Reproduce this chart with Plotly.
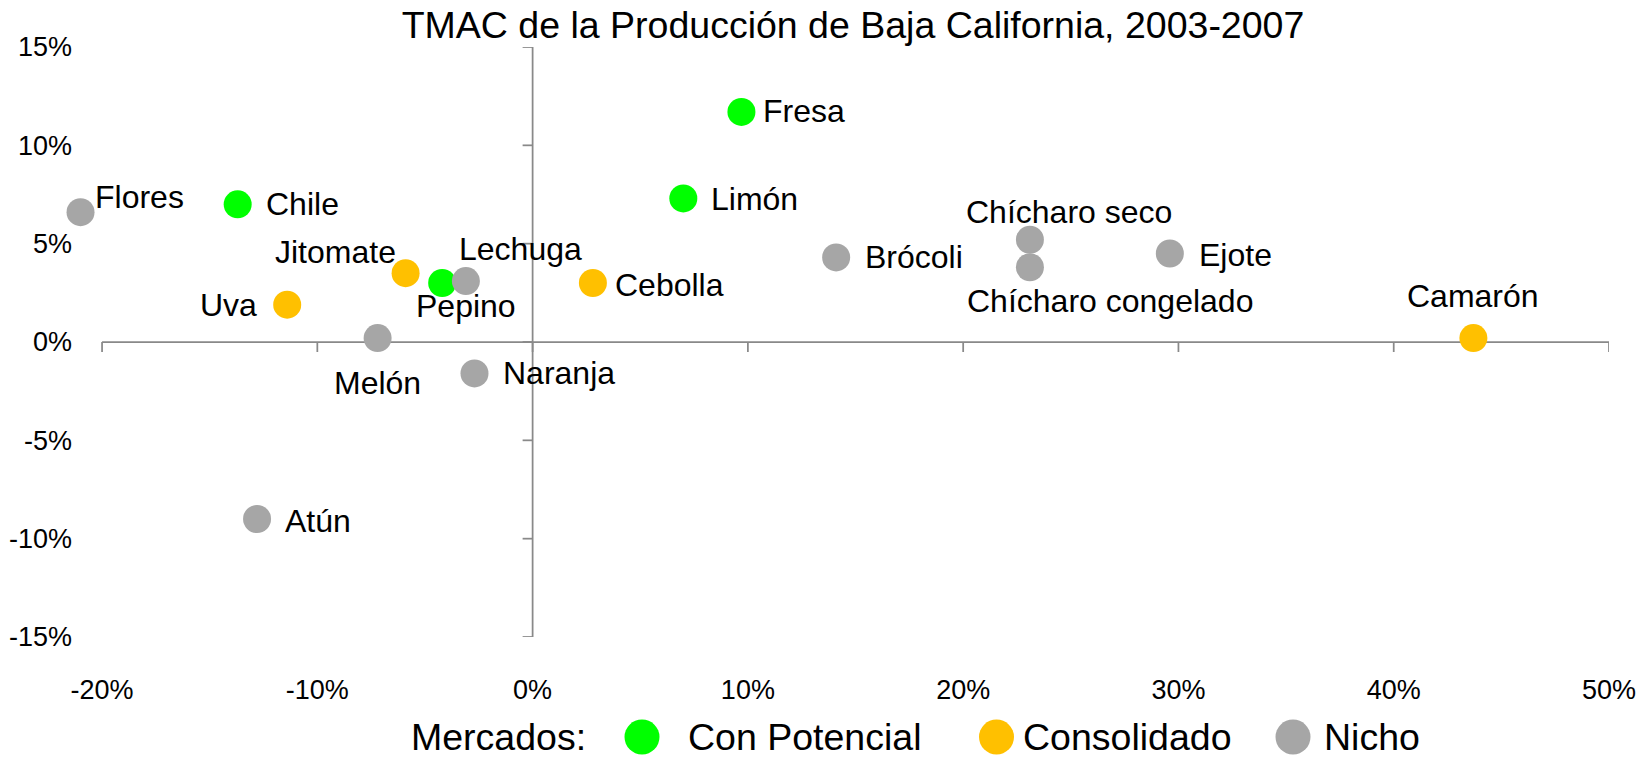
import plotly.graph_objects as go

# ---------------- data ----------------
products = ["Flores", "Chile", "Jitomate", "Pepino", "Lechuga", "Uva", "Melón",
            "Naranja", "Atún", "Fresa", "Limón", "Cebolla", "Brócoli",
            "Chícharo seco", "Chícharo congelado", "Ejote", "Camarón"]
tmac_x = [-21.0, -13.7, -5.9, -4.2, -3.1, -11.4, -7.2,
          -2.7, -12.8, 9.7, 7.0, 2.8, 14.1,
          23.1, 23.1, 29.6, 43.7]
tmac_y = [6.6, 7.0, 3.5, 3.0, 3.1, 1.9, 0.2,
          -1.6, -9.0, 11.7, 7.3, 3.0, 4.3,
          5.2, 3.8, 4.5, 0.2]
mercado = ["Nicho", "Con Potencial", "Consolidado", "Con Potencial", "Nicho",
           "Consolidado", "Nicho", "Nicho", "Nicho", "Con Potencial",
           "Con Potencial", "Consolidado", "Nicho", "Nicho", "Nicho", "Nicho",
           "Consolidado"]
categories = ["Con Potencial", "Consolidado", "Nicho"]

x_tickvals = [-20, -10, 0, 10, 20, 30, 40, 50]
x_ticktext = ["-20%", "-10%", "0%", "10%", "20%", "30%", "40%", "50%"]
y_tickvals = [-15, -10, -5, 0, 5, 10, 15]
y_ticktext = ["-15%", "-10%", "-5%", "0%", "5%", "10%", "15%"]

title_text = "TMAC de la Producción de Baja California, 2003-2007"
legend_title = "Mercados:"

# ---------------- style ----------------
colors = {"Con Potencial": "#00FF00", "Consolidado": "#FFC000", "Nicho": "#A6A6A6"}
FONT = "Liberation Sans, Arial, sans-serif"
AXIS_COLOR = "#898989"
W, H = 1641, 757
ML, MR, MT, MB = 59, 32, 47, 120
PW, PH = W - ML - MR, H - MT - MB
xr = [-22, 50]   # a little room on the left so the point beyond -20% shows
yr = [-15, 15]

# label placement per product: (xanchor, xshift px, yshift px)
label_place = [
    ("left", 12, 15), ("left", 26, 0), ("right", -8, 21), ("left", -28, -23),
    ("left", -9, 32), ("right", -28, 0), ("center", 0, -45), ("left", 27, 0),
    ("left", 26, -2), ("left", 20, 1), ("left", 26, -1), ("left", 20, -2),
    ("left", 27, 0), ("left", -66, 28), ("left", -65, -34), ("left", 27, -1),
    ("center", 0, 42),
]

def px_x(p):
    return (p - ML) / PW

def px_y(p):
    return (H - MB - p) / PH

fig = go.Figure()

for cat in categories:
    idx = [i for i, m in enumerate(mercado) if m == cat]
    fig.add_trace(go.Scatter(
        x=[tmac_x[i] for i in idx], y=[tmac_y[i] for i in idx],
        mode="markers", name=cat, showlegend=False, cliponaxis=False,
        text=[products[i] for i in idx],
        marker=dict(size=28, color=colors[cat], line=dict(width=0)),
        hovertemplate="%{text}<br>%{x:.1f}%, %{y:.1f}%<extra>" + cat + "</extra>",
    ))

annotations = []
for i, name in enumerate(products):
    xa, xs, ys = label_place[i]
    annotations.append(dict(
        x=tmac_x[i], y=tmac_y[i], xref="x", yref="y", text=name,
        showarrow=False, xanchor=xa, yanchor="middle", xshift=xs, yshift=ys,
        font=dict(family=FONT, size=32, color="#000000"),
    ))

shapes = []
# axes crossing at the origin, with their tick marks
line_style = dict(color=AXIS_COLOR, width=1.75)
shapes.append(dict(type="line", xref="x", yref="y", layer="below",
                   x0=x_tickvals[0], x1=x_tickvals[-1], y0=0, y1=0, line=line_style))
shapes.append(dict(type="line", xref="x", yref="y", layer="below",
                   x0=0, x1=0, y0=y_tickvals[0], y1=y_tickvals[-1], line=line_style))
for tv in x_tickvals:
    shapes.append(dict(type="line", xref="x", yref="y", layer="below",
                       ysizemode="pixel", yanchor=0, y0=0, y1=-10,
                       x0=tv, x1=tv, line=line_style))
for tv in y_tickvals:
    shapes.append(dict(type="line", xref="x", yref="y", layer="below",
                       xsizemode="pixel", xanchor=0, x0=0, x1=-10,
                       y0=tv, y1=tv, line=line_style))

# custom legend
leg_y = 737
annotations.append(dict(x=px_x(409), y=px_y(leg_y), xref="paper", yref="paper",
                        text=legend_title, showarrow=False, xanchor="left",
                        yanchor="middle", font=dict(family=FONT, size=37.5, color="#000")))
legend_items = [(categories[0], 642, 686), (categories[1], 996.5, 1021),
                (categories[2], 1293, 1322)]
for cat, cx, tx in legend_items:
    shapes.append(dict(type="circle", xref="paper", yref="paper",
                       xsizemode="pixel", ysizemode="pixel",
                       xanchor=px_x(cx), yanchor=px_y(leg_y),
                       x0=-17.5, x1=17.5, y0=-17.5, y1=17.5,
                       fillcolor=colors[cat], line=dict(width=0)))
    annotations.append(dict(x=px_x(tx), y=px_y(leg_y), xref="paper", yref="paper",
                            text=cat, showarrow=False, xanchor="left",
                            yanchor="middle", font=dict(family=FONT, size=37.5, color="#000")))

fig.update_layout(
    width=W, height=H,
    margin=dict(l=ML, r=MR, t=MT, b=MB, autoexpand=False),
    paper_bgcolor="white", plot_bgcolor="white",
    font=dict(family=FONT, color="#000000"),
    title=dict(text=title_text, x=px_x(853), xref="paper", xanchor="center",
               y=1 - 25 / H, yref="container", yanchor="middle",
               font=dict(family=FONT, size=37.5, color="#000000")),
    xaxis=dict(range=xr, tickvals=x_tickvals, ticktext=x_ticktext,
               showgrid=False, zeroline=False, showline=False, ticks="",
               ticklabelstandoff=34, fixedrange=True,
               tickfont=dict(family=FONT, size=27, color="#000")),
    yaxis=dict(range=yr, tickvals=y_tickvals, ticktext=y_ticktext,
               showgrid=False, zeroline=False, showline=False, ticks="",
               ticklabelstandoff=-14, fixedrange=True,
               tickfont=dict(family=FONT, size=27, color="#000")),
    annotations=annotations,
    shapes=shapes,
    showlegend=False,
)

fig.write_html("out.html",
               config={"displayModeBar": False},
               post_script="document.body.style.margin='0';"
                           "document.body.style.overflow='hidden';")
